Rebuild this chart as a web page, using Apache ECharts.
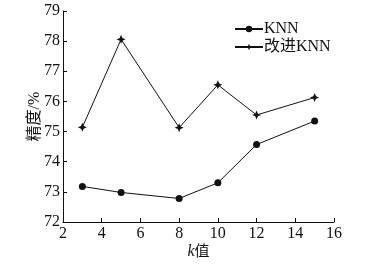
<!DOCTYPE html>
<html>
<head>
<meta charset="utf-8">
<script src="https://cdn.jsdelivr.net/npm/echarts@6/dist/echarts.min.js"></script>
<style>
html, body { margin: 0; padding: 0; background: #fff; }
#chart { width: 373px; height: 265px; }
</style>
</head>
<body>
<div id="chart"></div>
<script>
var kValues = [3, 5, 8, 10, 12, 15];
var knnAcc = [73.18, 72.98, 72.78, 73.3, 74.57, 75.35];
var improvedAcc = [75.14, 78.06, 75.13, 76.55, 75.55, 76.13];
var seriesNames = ['KNN', '改进KNN'];

var serif = '"Liberation Serif", "Noto Sans CJK SC", serif';
var starPath = 'path://M0,-10 L3,-3 L10,0 L3,3 L0,10 L-3,3 L-10,0 L-3,-3 Z';

function pairs(xs, ys) {
	return xs.map(function (x, i) { return [x, ys[i]]; });
}

var chart = echarts.init(document.getElementById('chart'));

chart.setOption({
	animation: false,
	backgroundColor: '#fff',
	grid: {
		left: 63,
		right: 39,
		top: 11,
		bottom: 42
	},
	legend: {
		orient: 'vertical',
		left: 229,
		top: 16,
		itemWidth: 28,
		itemHeight: 8,
		itemGap: 2,
		textStyle: {
			fontFamily: serif,
			fontSize: 16,
			color: '#111',
			padding: [0, 0, 0, -4]
		},
		data: seriesNames
	},
	xAxis: {
		type: 'value',
		min: 2,
		max: 16,
		interval: 2,
		name: '{i|k}{n|值}',
		nameLocation: 'middle',
		nameGap: 22,
		nameMoveOverlap: false,
		nameTextStyle: {
			rich: {
				i: { fontFamily: serif, fontStyle: 'italic', fontSize: 16, color: '#111' },
				n: { fontFamily: serif, fontSize: 15, color: '#111' }
			}
		},
		axisLine: { lineStyle: { color: '#111', width: 1 } },
		axisTick: { inside: true, length: 4, lineStyle: { color: '#111' } },
		axisLabel: { fontFamily: serif, fontSize: 16, color: '#111', margin: 4 },
		splitLine: { show: false }
	},
	yAxis: {
		type: 'value',
		min: 72,
		max: 79,
		interval: 1,
		name: '精度/%',
		nameLocation: 'middle',
		nameRotate: 90,
		nameGap: 20,
		nameMoveOverlap: false,
		nameTextStyle: { fontFamily: serif, fontSize: 16, color: '#111' },
		axisLine: { show: true, lineStyle: { color: '#111', width: 1 } },
		axisTick: { show: true, inside: true, length: 4, lineStyle: { color: '#111' } },
		axisLabel: { fontFamily: serif, fontSize: 16, color: '#111', margin: 3 },
		splitLine: { show: false }
	},
	series: [{
		name: seriesNames[0],
		type: 'line',
		data: pairs(kValues, knnAcc),
		symbol: 'circle',
		symbolSize: 7,
		lineStyle: { color: '#111', width: 1 },
		itemStyle: { color: '#111' }
	}, {
		name: seriesNames[1],
		type: 'line',
		data: pairs(kValues, improvedAcc),
		symbol: starPath,
		symbolSize: 9,
		lineStyle: { color: '#111', width: 1 },
		itemStyle: { color: '#111' }
	}]
});
</script>
</body>
</html>
